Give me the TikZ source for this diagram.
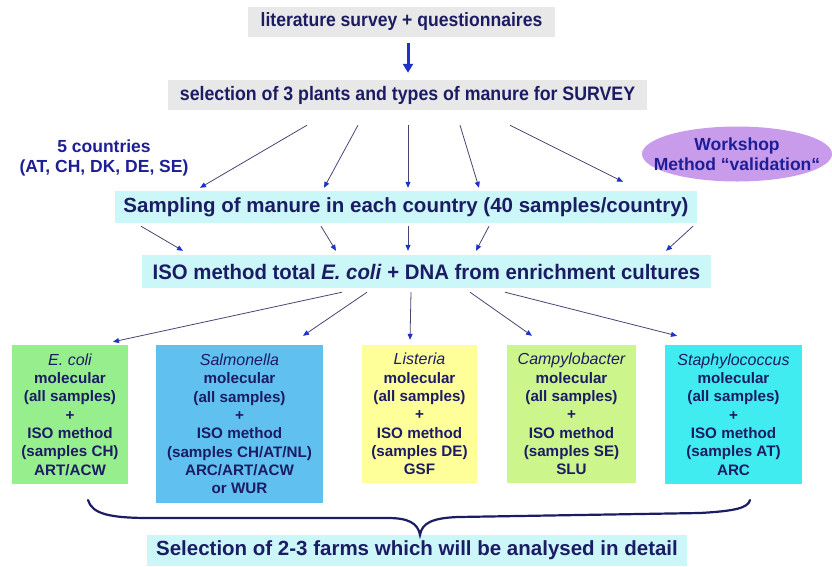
\documentclass[tikz,border=0pt]{standalone}
\usepackage{fontspec}
\setmainfont{Liberation Sans}
\newfontfamily\narrowfont[FakeStretch=0.91]{Liberation Sans}
\newfontfamily\isofont[FakeStretch=0.97]{Liberation Sans}
\usetikzlibrary{arrows.meta,shapes.geometric}
\definecolor{navy}{RGB}{28,28,100}
\definecolor{textblue}{RGB}{30,30,150}
\definecolor{boxgray}{RGB}{232,232,232}
\definecolor{boxcyan}{RGB}{204,247,249}
\definecolor{ecoligreen}{RGB}{150,238,140}
\definecolor{salmblue}{RGB}{96,192,240}
\definecolor{listyellow}{RGB}{255,255,153}
\definecolor{campygreen}{RGB}{204,245,140}
\definecolor{staphcyan}{RGB}{64,236,240}
\definecolor{lilac}{RGB}{200,155,235}
\definecolor{arrowblue}{RGB}{30,50,200}
\definecolor{linegray}{RGB}{70,70,115}
\begin{document}
\begin{tikzpicture}[x=1pt,y=-1pt,
  flatbox/.style={inner sep=0pt, text=navy, font=\bfseries},
  species/.style={inner sep=0pt, text=navy, align=center,
    font=\fontsize{15.2}{18.3}\selectfont\bfseries},
  thinarr/.style={draw=linegray, line width=0.8pt,
    -{Triangle[color=arrowblue,length=6pt,width=5pt]}},
  bigarr/.style={draw=arrowblue, line width=3pt,
    -{Triangle[length=9pt,width=10pt]}},
  bracestyle/.style={draw=navy, line width=2.2pt, line cap=round}]
\useasboundingbox (0,0) rectangle (832,566);
\newcommand{\spname}[1]{{\fontsize{16}{18.3}\selectfont\mdseries\itshape #1}}

% top row
\node[flatbox, fill=boxgray, minimum width=307pt, minimum height=30pt,
  font=\narrowfont\fontsize{19.3}{22}\selectfont\bfseries] (lit) at (401.5,22)
  {literature survey + questionnaires};
\node[flatbox, fill=boxgray, minimum width=479pt, minimum height=30pt,
  font=\narrowfont\fontsize{19.5}{22}\selectfont\bfseries] (sel) at (407.5,95)
  {selection of 3 plants and types of manure for SURVEY};
\node[flatbox, fill=boxcyan, minimum width=582pt, minimum height=32pt,
  font=\fontsize{20.5}{24}\selectfont\bfseries] (samp) at (406,207)
  {Sampling of manure in each country (40 samples/country)};
\node[flatbox, fill=boxcyan, minimum width=569pt, minimum height=33pt,
  font=\isofont\fontsize{21}{24}\selectfont\bfseries] (iso) at (426.5,271.5)
  {ISO method total \textit{E. coli} + DNA from enrichment cultures};

% side labels
\node[inner sep=0pt, align=center, text=textblue,
  font=\fontsize{17.5}{20}\selectfont\bfseries] (countries) at (104,158)
  {5 countries\\(AT, CH, DK, DE, SE)};
\node[ellipse, fill=lilac, minimum width=190pt, minimum height=55pt, inner sep=0pt]
  (wsbg) at (737,154) {};
\node[inner sep=0pt, align=center, text=textblue,
  font=\fontsize{17.5}{20}\selectfont\bfseries]
  (ws) at (wsbg.center) {Workshop\\Method “validation“};

% species boxes
\node[species, fill=ecoligreen, minimum width=116pt, minimum height=139pt]
  (ecoli) at (70,414.5)
  {\spname{E. coli}\\molecular\\(all samples)\\+\\ISO method\\(samples CH)\\ART/ACW};
\node[species, fill=salmblue, minimum width=167pt, minimum height=158pt]
  (salm) at (239.5,424)
  {\spname{Salmonella}\\molecular\\(all samples)\\+\\ISO method\\(samples CH/AT/NL)\\ARC/ART/ACW\\or WUR};
\node[species, fill=listyellow, minimum width=115pt, minimum height=138pt]
  (list) at (419.5,414)
  {\spname{Listeria}\\molecular\\(all samples)\\+\\ISO method\\(samples DE)\\GSF};
\node[species, fill=campygreen, minimum width=129pt, minimum height=138pt]
  (campy) at (571.5,414)
  {\spname{Campylobacter}\\molecular\\(all samples)\\+\\ISO method\\(samples SE)\\SLU};
\node[species, fill=staphcyan, minimum width=137pt, minimum height=139pt]
  (staph) at (733.5,414.5)
  {\spname{Staphylococcus}\\molecular\\(all samples)\\+\\ISO method\\(samples AT)\\ARC};

% bottom box
\node[flatbox, fill=boxcyan, minimum width=540pt, minimum height=31pt,
  font=\fontsize{20.5}{24}\selectfont\bfseries] (farms) at (417,550.5)
  {Selection of 2-3 farms which will be analysed in detail};

% arrows
\draw[bigarr] ([xshift=6.5pt,yshift=-6pt]lit.south) -- ([xshift=0.5pt,yshift=7pt]sel.north);

\draw[thinarr] ([xshift=-100.5pt,yshift=-15pt]sel.south) -- ([xshift=-206pt,yshift=3pt]samp.north);
\draw[thinarr] ([xshift=-49.5pt,yshift=-15pt]sel.south) -- ([xshift=-82pt,yshift=3pt]samp.north);
\draw[thinarr] ([xshift=0.5pt,yshift=-15pt]sel.south) -- ([xshift=2pt,yshift=3pt]samp.north);
\draw[thinarr] ([xshift=52.5pt,yshift=-15pt]sel.south) -- ([xshift=73pt,yshift=3pt]samp.north);
\draw[thinarr] ([xshift=102.5pt,yshift=-15pt]sel.south) -- ([xshift=217pt,yshift=9pt]samp.north);

\draw[thinarr] ([xshift=-265pt,yshift=-3pt]samp.south) -- ([xshift=-243.5pt,yshift=4pt]iso.north);
\draw[thinarr] ([xshift=-85pt,yshift=-3pt]samp.south) -- ([xshift=-90.5pt,yshift=4pt]iso.north);
\draw[thinarr] ([xshift=2pt,yshift=-3pt]samp.south) -- ([xshift=-18.5pt,yshift=4pt]iso.north);
\draw[thinarr] ([xshift=83pt,yshift=-3pt]samp.south) -- ([xshift=49.5pt,yshift=4pt]iso.north);
\draw[thinarr] ([xshift=287pt,yshift=-3pt]samp.south) -- ([xshift=239.5pt,yshift=4pt]iso.north);

\draw[thinarr] ([xshift=-84.5pt,yshift=-4pt]iso.south) -- ([xshift=43pt,yshift=3pt]ecoli.north);
\draw[thinarr] ([xshift=-59.5pt,yshift=-4pt]iso.south) -- ([xshift=63.5pt,yshift=9pt]salm.north);
\draw[thinarr] ([xshift=-15.5pt,yshift=-4pt]iso.south) -- ([xshift=-9.5pt,yshift=5pt]list.north);
\draw[thinarr] ([xshift=43.5pt,yshift=-4pt]iso.south) -- ([xshift=-39.5pt,yshift=9pt]campy.north);
\draw[thinarr] ([xshift=78.5pt,yshift=-4pt]iso.south) -- ([xshift=-56.5pt,yshift=9pt]staph.north);

% brace
\draw[bracestyle] (88,500) .. controls (92,514) and (110,518) .. (150,518)
  -- (388,518) .. controls (408,518) and (418,523) .. (420,535)
  .. controls (422,523) and (432,518) .. (458,517)
  -- (700,513) .. controls (735,511) and (748,508) .. (750,500);
\end{tikzpicture}
\end{document}
